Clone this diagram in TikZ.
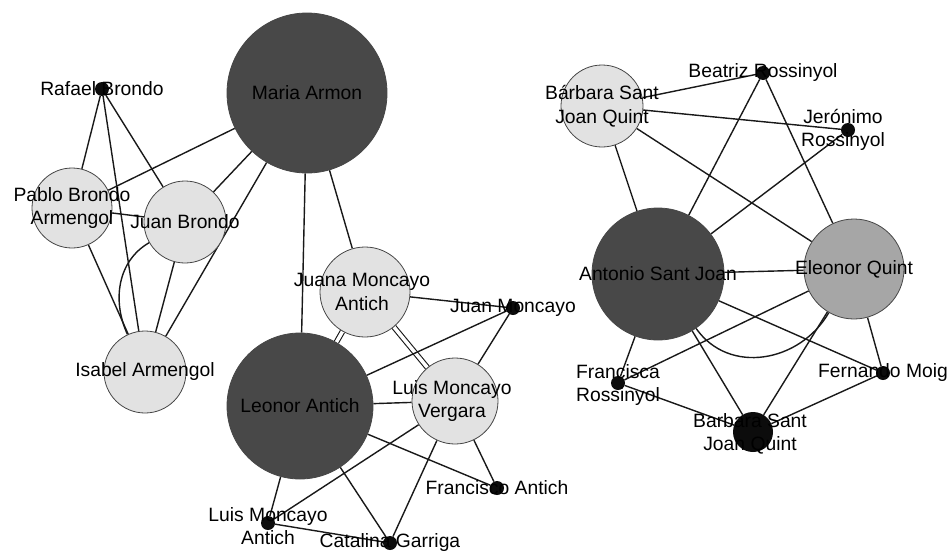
\documentclass[tikz,border=0pt]{standalone}
\usepackage{fontspec}
\setmainfont{Liberation Sans}
\pgfdeclarelayer{background}
\pgfsetlayers{background,main}
\definecolor{darkfill}{RGB}{72,72,72}
\definecolor{lightfill}{RGB}{226,226,226}
\definecolor{midfill}{RGB}{166,166,166}
\definecolor{dotfill}{RGB}{12,12,12}
\definecolor{bordercol}{RGB}{70,70,70}
\definecolor{edgecol}{RGB}{25,25,25}
\begin{document}
\begin{tikzpicture}[x=1pt,y=1pt,
  lbl/.style={font=\fontsize{19.3}{23.5}\selectfont, align=center, inner sep=0pt, text=black},
  bignode/.style={circle, draw=bordercol, line width=0.8pt, inner sep=0pt},
  darknode/.style={bignode, fill=darkfill},
  lightnode/.style={bignode, fill=lightfill},
  midnode/.style={bignode, fill=midfill},
  dotnode/.style={circle, fill=dotfill, inner sep=0pt, minimum size=14},
  link/.style={draw=edgecol, line width=1.4pt},
  dbl/.style={draw=edgecol, line width=1.1pt, double=white, double distance=3.5pt}
]
\useasboundingbox (0,0) rectangle (950,-554);

% ---- left cluster ----
\node[darknode, minimum size=160, label={[lbl]center:Maria Armon}] (maria) at (307,-93) {};
\node[dotnode, label={[lbl]center:Rafael Brondo}] (rafael) at (102,-89) {};
\node[lightnode, minimum size=80, label={[lbl]center:Pablo Brondo\\Armengol}] (pablo) at (72,-208) {};
\node[lightnode, minimum size=82, label={[lbl]center:Juan Brondo}] (juanb) at (185,-222) {};
\node[lightnode, minimum size=82, label={[lbl]center:Isabel Armengol}] (isabel) at (145,-372) {};
\node[darknode, minimum size=146, label={[lbl]center:Leonor Antich}] (leonor) at (300,-406) {};
\node[lightnode, minimum size=90, label={[lbl,xshift=-3]center:Juana Moncayo\\Antich}] (juana) at (365,-292) {};
\node[dotnode, label={[lbl]center:Juan Moncayo}] (juanm) at (513,-308) {};
\node[lightnode, minimum size=86, label={[lbl,xshift=-3]center:Luis Moncayo\\Vergara}] (luismv) at (455,-401) {};
\node[dotnode, label={[lbl]center:Francisco Antich}] (francisco) at (497,-488) {};
\node[dotnode, label={[lbl,yshift=-3]center:Luis Moncayo\\Antich}] (luisma) at (268,-523) {};
\node[dotnode, label={[lbl]center:Catalina Garriga}] (catalina) at (390,-543) {};

% ---- right cluster ----
\node[lightnode, minimum size=82, label={[lbl]center:Bárbara Sant\\Joan Quint}] (barbara) at (602,-106) {};
\node[dotnode, label={[lbl]center:Beatriz Rossinyol}] (beatriz) at (763,-73) {};
\node[dotnode, label={[lbl,xshift=-5]center:Jerónimo\\Rossinyol}] (jeronimo) at (848,-130) {};
\node[darknode, minimum size=132, label={[lbl]center:Antonio Sant Joan}] (antonio) at (658,-274) {};
\node[midnode, minimum size=100, label={[lbl]center:Eleonor Quint}] (eleonor) at (854,-269) {};
\node[dotnode, label={[lbl,yshift=-2]center:Francisca\\Rossinyol}] (francisca) at (618,-383) {};
\node[dotnode, label={[lbl]center:Fernando Moig}] (fernando) at (883,-373) {};
\node[dotnode, minimum size=40, label={[lbl,xshift=-3,yshift=-2]center:Barbara Sant\\Joan Quint}] (barbara2) at (753,-432) {};

\begin{pgfonlayer}{background}
% left cluster edges
\draw[link] (rafael) -- (pablo);
\draw[link] (rafael) -- (juanb);
\draw[link] (rafael) -- (isabel);
\draw[link] (maria) -- (pablo);
\draw[link] (maria) -- (juanb);
\draw[link] (maria) -- (isabel);
\draw[link] (maria) -- (leonor);
\draw[link] (maria) -- (juana);
\draw[link] (pablo) -- (juanb);
\draw[link] (pablo) -- (isabel);
\draw[link] (juanb) -- (isabel);
\draw[link] (juanb) to[out=-150, in=115, looseness=1] (isabel);
\draw[dbl] (juana) -- (leonor);
\draw[dbl] (juana) -- (luismv);
\draw[link] (juana) -- (juanm);
\draw[link] (leonor) -- (juanm);
\draw[link] (luismv) -- (juanm);
\draw[link] (leonor) -- (luismv);
\draw[link] (leonor) -- (francisco);
\draw[link] (luismv) -- (francisco);
\draw[link] (leonor) -- (luisma);
\draw[link] (leonor) -- (catalina);
\draw[link] (luismv) -- (luisma);
\draw[link] (luismv) -- (catalina);
\draw[link] (luisma) -- (catalina);
% right cluster edges
\draw[link] (barbara) -- (beatriz);
\draw[link] (barbara) -- (jeronimo);
\draw[link] (barbara) -- (antonio);
\draw[link] (barbara) -- (eleonor);
\draw[link] (beatriz) -- (antonio);
\draw[link] (beatriz) -- (eleonor);
\draw[link] (jeronimo) -- (antonio);
\draw[link] (antonio) -- (eleonor);
\draw[link] (antonio) to[out=-55, in=-120, looseness=1.1] (eleonor);
\draw[link] (antonio) -- (francisca);
\draw[link] (antonio) -- (barbara2);
\draw[link] (antonio) -- (fernando);
\draw[link] (eleonor) -- (francisca);
\draw[link] (eleonor) -- (barbara2);
\draw[link] (eleonor) -- (fernando);
\draw[link] (francisca) -- (barbara2);
\draw[link] (fernando) -- (barbara2);
\end{pgfonlayer}
\end{tikzpicture}
\end{document}
